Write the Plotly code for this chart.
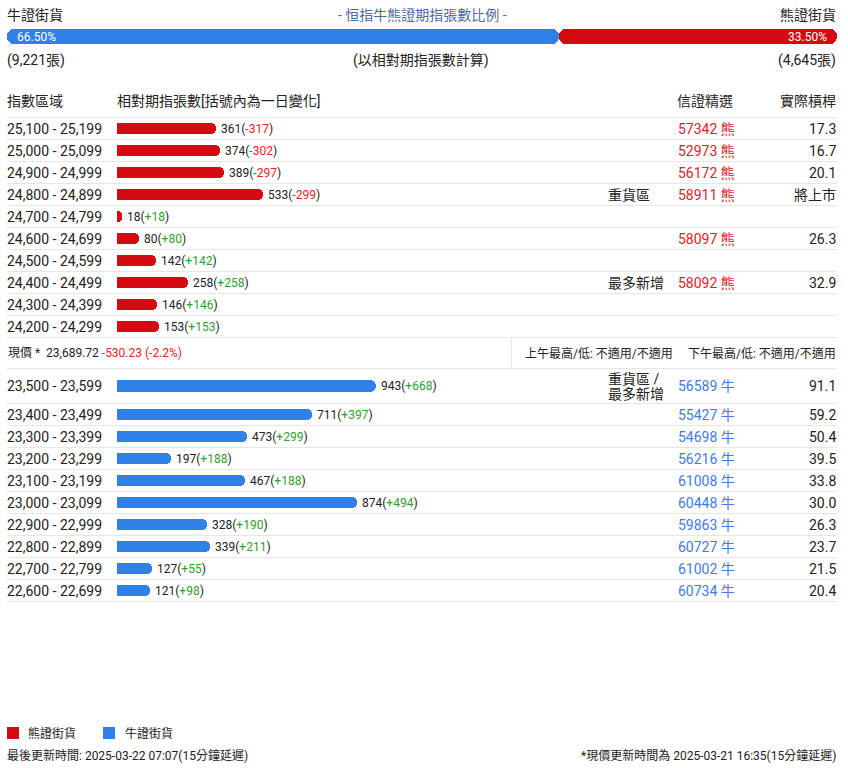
import plotly.graph_objects as go

# ---------------- data ----------------
bull_total = 9221
bear_total = 4645

bear_ranges = ["25,100 - 25,199", "25,000 - 25,099", "24,900 - 24,999", "24,800 - 24,899",
               "24,700 - 24,799", "24,600 - 24,699", "24,500 - 24,599", "24,400 - 24,499",
               "24,300 - 24,399", "24,200 - 24,299"]
bear_counts = [361, 374, 389, 533, 18, 80, 142, 258, 146, 153]
bear_changes = [-317, -302, -297, -299, 18, 80, 142, 258, 146, 153]
bear_codes = ["57342", "52973", "56172", "58911", "", "58097", "", "58092", "", ""]
bear_leverage = ["17.3", "16.7", "20.1", "將上市", "", "26.3", "", "32.9", "", ""]
bear_tags = ["", "", "", "重貨區", "", "", "", "最多新增", "", ""]

bull_ranges = ["23,500 - 23,599", "23,400 - 23,499", "23,300 - 23,399", "23,200 - 23,299",
               "23,100 - 23,199", "23,000 - 23,099", "22,900 - 22,999", "22,800 - 22,899",
               "22,700 - 22,799", "22,600 - 22,699"]
bull_counts = [943, 711, 473, 197, 467, 874, 328, 339, 127, 121]
bull_changes = [668, 397, 299, 188, 188, 494, 190, 211, 55, 98]
bull_codes = ["56589", "55427", "54698", "56216", "61008", "60448", "59863", "60727", "61002", "60734"]
bull_leverage = ["91.1", "59.2", "50.4", "39.5", "33.8", "30.0", "26.3", "23.7", "21.5", "20.4"]
bull_tags = ["重貨區 /<br>最多新增", "", "", "", "", "", "", "", "", ""]

legend_names = ["熊證街貨", "牛證街貨"]

spot_price = "23,689.72"
spot_change = "-530.23"
spot_pct = "(-2.2%)"
am_text = "上午最高/低: 不適用/不適用"
pm_text = "下午最高/低: 不適用/不適用"
update_text = "最後更新時間: 2025-03-22 07:07(15分鐘延遲)"
spot_update_text = "*現價更新時間為 2025-03-21 16:35(15分鐘延遲)"

# ---------------- style ----------------
W, H = 848, 768
FONT = "Roboto, 'Noto Sans CJK TC', sans-serif"
TXT = "#222222"
RED_BAR = "#d50b13"
BLUE_BAR = "#2f80e8"
RED_TXT = "#e0222a"
BLUE_TXT = "#3f7ce6"
GREEN_TXT = "#2f9e2f"
LINE = "#e6e6e6"
TITLE_C = "#50699f"

ROW_H = 22
TABLE_TOP = 117.5
SPOT_H = 31
BULL0_H = 35
BAR_W = 11.5
BAR_X0 = 117
PX_PER_UNIT = 0.2743
L, R = 7, 837

bear_y = [TABLE_TOP + ROW_H * (i + 0.5) for i in range(len(bear_ranges))]
spot_top = TABLE_TOP + ROW_H * len(bear_ranges)
spot_y = spot_top + SPOT_H / 2
bull_top = spot_top + SPOT_H
bull_y = []
bounds = [TABLE_TOP + ROW_H * i for i in range(len(bear_ranges) + 1)]
bounds.append(bull_top)
cur = bull_top
for i in range(len(bull_ranges)):
    h = BULL0_H if i == 0 else ROW_H
    bull_y.append(cur + h / 2)
    cur += h
    bounds.append(cur)

fig = go.Figure()

fig.add_trace(go.Bar(
    y=bear_y, x=bear_counts, orientation="h", width=BAR_W, name=legend_names[0],
    marker=dict(color=RED_BAR, cornerradius=6, line=dict(width=0)),
    showlegend=False, hoverinfo="skip", xaxis="x", yaxis="y"))
fig.add_trace(go.Bar(
    y=bull_y, x=bull_counts, orientation="h", width=BAR_W, name=legend_names[1],
    marker=dict(color=BLUE_BAR, cornerradius=6, line=dict(width=0)),
    showlegend=False, hoverinfo="skip", xaxis="x", yaxis="y"))

# ratio bar
total = bull_total + bear_total
bull_pct = bull_total / total * 100
bear_pct = bear_total / total * 100
RATIO_Y = 36.8
fig.add_trace(go.Bar(
    y=[RATIO_Y], x=[-bull_pct], base=[bull_pct], orientation="h", width=15,
    marker=dict(color=BLUE_BAR, cornerradius=7.5, line=dict(width=0)),
    showlegend=False, hoverinfo="skip", xaxis="x2", yaxis="y"))
fig.add_trace(go.Bar(
    y=[RATIO_Y], x=[bear_pct], base=[bull_pct], orientation="h", width=15,
    marker=dict(color=RED_BAR, cornerradius=7.5, line=dict(width=0)),
    showlegend=False, hoverinfo="skip", xaxis="x2", yaxis="y"))

ann = []


def text(xp, yp, s, anchor="left", size=14, color=TXT):
    ann.append(dict(x=xp / W, xref="paper", y=yp, yref="y", text=s, xanchor=anchor,
                    yanchor="middle", showarrow=False, borderpad=0, borderwidth=0,
                    font=dict(family=FONT, size=size, color=color)))


# top header
text(L, 15, "牛證街貨")
text(422, 15, "- 恒指牛熊證期指張數比例 -", "center", color=TITLE_C)
text(836, 15, "熊證街貨", "right")
text(17, RATIO_Y, f"{bull_pct:.2f}%", "left", 12, "white")
text(827, RATIO_Y, f"{bear_pct:.2f}%", "right", 12, "white")
text(L, 60, f"({bull_total:,}張)")
text(421, 60, "(以相對期指張數計算)", "center")
text(836, 60, f"({bear_total:,}張)", "right")

# column headers
text(L, 101, "指數區域")
text(BAR_X0, 101, "相對期指張數[括號內為一日變化]")
text(677, 101, "信證精選")
text(836, 101, "實際槓桿", "right")


def rows(ys, ranges, counts, changes, codes, lev, tags, code_color, suffix):
    for y, rg, c, ch, cd, lv, tg in zip(ys, ranges, counts, changes, codes, lev, tags):
        text(L, y, rg)
        chc = GREEN_TXT if ch > 0 else RED_TXT
        ann.append(dict(x=c, xref="x", y=y, yref="y", xanchor="left", yanchor="middle",
                        xshift=5, showarrow=False, borderpad=0, borderwidth=0,
                        text=f"{c}(<span style='color:{chc}'>{ch:+d}</span>)",
                        font=dict(family=FONT, size=12, color=TXT)))
        if cd:
            text(678, y, f"{cd} {suffix}", color=code_color)
        if lv:
            text(836, y, lv, "right")
        if tg:
            parts = tg.split("<br>")
            n = len(parts)
            for k, p in enumerate(parts):
                text(608, y + (k - (n - 1) / 2) * 15, p)


rows(bear_y, bear_ranges, bear_counts, bear_changes, bear_codes, bear_leverage, bear_tags, RED_TXT, "熊")
rows(bull_y, bull_ranges, bull_counts, bull_changes, bull_codes, bull_leverage, bull_tags, BLUE_TXT, "牛")

# spot row
text(L + 1, spot_y, f"現價 *  {spot_price} <span style='color:{RED_TXT}'>{spot_change} {spot_pct}</span>", size=12)
text(673, spot_y, am_text, "right", 12)
text(836, spot_y, pm_text, "right", 12)

# footer
text(L, 755, update_text, size=12)
text(836, 755, spot_update_text, "right", 12)

shapes = []
for b in bounds:
    shapes.append(dict(type="line", xref="paper", yref="y", x0=L / W, x1=R / W, y0=b, y1=b,
                       line=dict(color=LINE, width=1), layer="below"))
shapes.append(dict(type="line", xref="paper", yref="y", x0=511.5 / W, x1=511.5 / W,
                   y0=spot_top, y1=bull_top, line=dict(color=LINE, width=1), layer="below"))

# legend (manual, square swatches)
LEG_Y = 733
leg_items = [(7, 28, RED_BAR, legend_names[0]), (103, 125, BLUE_BAR, legend_names[1])]
for sx, tx, col, name in leg_items:
    shapes.append(dict(type="rect", xref="paper", yref="y", x0=sx / W, x1=(sx + 12) / W,
                       y0=LEG_Y - 6, y1=LEG_Y + 6, fillcolor=col, line=dict(width=0)))
    text(tx, LEG_Y, name, size=12)

fig.update_layout(
    width=W, height=H, autosize=False,
    margin=dict(l=0, r=0, t=0, b=0, pad=0),
    paper_bgcolor="white", plot_bgcolor="rgba(0,0,0,0)",
    barmode="overlay", bargap=0,
    font=dict(family=FONT, size=12, color=TXT),
    xaxis=dict(domain=[BAR_X0 / W, 1], range=[0, (W - BAR_X0) / PX_PER_UNIT], visible=False,
               fixedrange=True),
    xaxis2=dict(domain=[L / W, R / W], range=[0, 100], visible=False, anchor="y", fixedrange=True),
    yaxis=dict(domain=[0, 1], range=[H, 0], visible=False, fixedrange=True),
    showlegend=False,
    annotations=ann, shapes=shapes,
)

fig.write_html("out.html", config={"displayModeBar": False},
               post_script="document.body.style.margin='0';")
